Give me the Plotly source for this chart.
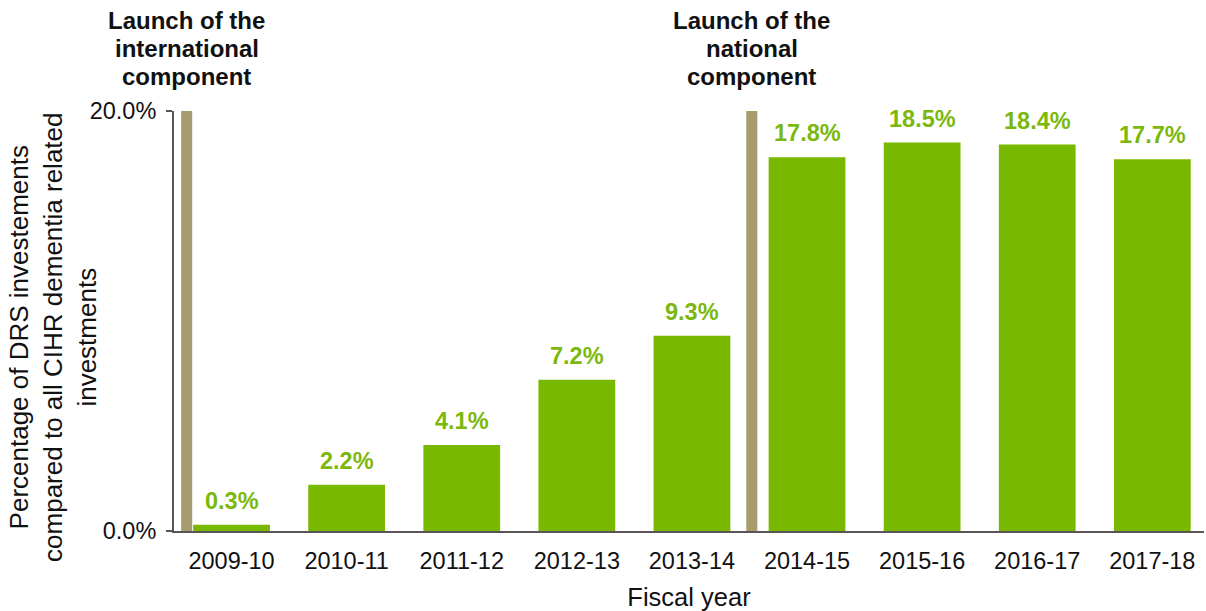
import plotly.graph_objects as go

# Fiscal years and DRS share of all CIHR dementia-related investments (%)
fiscal_years = ["2009-10", "2010-11", "2011-12", "2012-13", "2013-14",
                "2014-15", "2015-16", "2016-17", "2017-18"]
drs_share = [0.3, 2.2, 4.1, 7.2, 9.3, 17.8, 18.5, 18.4, 17.7]

# Programme milestones: caption lines and position on the category axis
milestone_labels = [["Launch of the", "international", "component"],
                    ["Launch of the", "national", "component"]]
milestone_positions = [-0.39, 4.52]

y_ticks = [0, 20]
y_tick_text = ["0.0%", "20.0%"]

FONT = "Arial, 'Liberation Sans', sans-serif"
BAR_GREEN = "#79B800"
LABEL_GREEN = "#7BB80C"
MILESTONE_KHAKI = "#A59D6E"
AXIS_GREY = "#5A5457"

fig = go.Figure()
fig.add_trace(go.Bar(
    x=list(range(len(fiscal_years))),
    y=drs_share,
    width=0.667,
    marker=dict(color=BAR_GREEN, line=dict(width=0)),
    hoverinfo="skip",
))

# Value labels above each bar
for i, v in enumerate(drs_share):
    fig.add_annotation(
        x=i, y=v, text=f"<b>{v:.1f}%</b>", showarrow=False,
        xref="x", yref="y", yanchor="bottom", yshift=9,
        font=dict(family=FONT, size=23.5, color=LABEL_GREEN),
    )

# Milestone markers: thin vertical bands plus a bold caption above the plot
band_half = 0.048
line_step = 28
for lines, pos in zip(milestone_labels, milestone_positions):
    fig.add_shape(
        type="rect", xref="x", yref="y",
        x0=pos - band_half, x1=pos + band_half, y0=-0.1, y1=20,
        fillcolor=MILESTONE_KHAKI, line=dict(width=0), layer="above",
    )
    n = len(lines)
    for k, line in enumerate(lines):
        fig.add_annotation(
            x=pos, y=1, xref="x", yref="paper", yanchor="middle",
            yshift=35 + (n - 1 - k) * line_step,
            text=f"<b>{line}</b>", showarrow=False, align="center",
            font=dict(family=FONT, size=24, color="#111111"),
        )

# Y-axis title, drawn as a rotated annotation
fig.add_annotation(
    x=-0.1175, y=0.462, xref="paper", yref="paper",
    xanchor="center", yanchor="middle", textangle=-90,
    text=("Percentage of DRS investements<br>"
          "compared to all CIHR dementia related<br>investments"),
    showarrow=False, align="center",
    font=dict(family=FONT, size=26, color="#111111"),
)

fig.update_layout(
    width=1206, height=611,
    margin=dict(l=174, r=2, t=111, b=80),
    paper_bgcolor="white", plot_bgcolor="white",
    showlegend=False, bargap=0.333,
    font=dict(family=FONT, color="#111111"),
)

fig.update_xaxes(
    range=[-0.5, 8.449],
    tickmode="array",
    tickvals=list(range(len(fiscal_years))),
    ticktext=fiscal_years,
    ticks="", showgrid=False, zeroline=False,
    showline=True, linecolor=AXIS_GREY, linewidth=2,
    tickfont=dict(family=FONT, size=23.5, color="#111111"),
    ticklabelstandoff=8,
    title=dict(text="Fiscal year", standoff=15,
               font=dict(family=FONT, size=25.5, color="#111111")),
)

fig.update_yaxes(
    range=[0, 20],
    tickmode="array", tickvals=y_ticks, ticktext=y_tick_text,
    ticks="outside", ticklen=6, tickwidth=2, tickcolor=AXIS_GREY,
    ticklabelstandoff=5,
    showgrid=False, zeroline=False,
    showline=True, linecolor=AXIS_GREY, linewidth=2,
    tickfont=dict(family=FONT, size=23.5, color="#111111"),
)

fig.write_html("out.html")
